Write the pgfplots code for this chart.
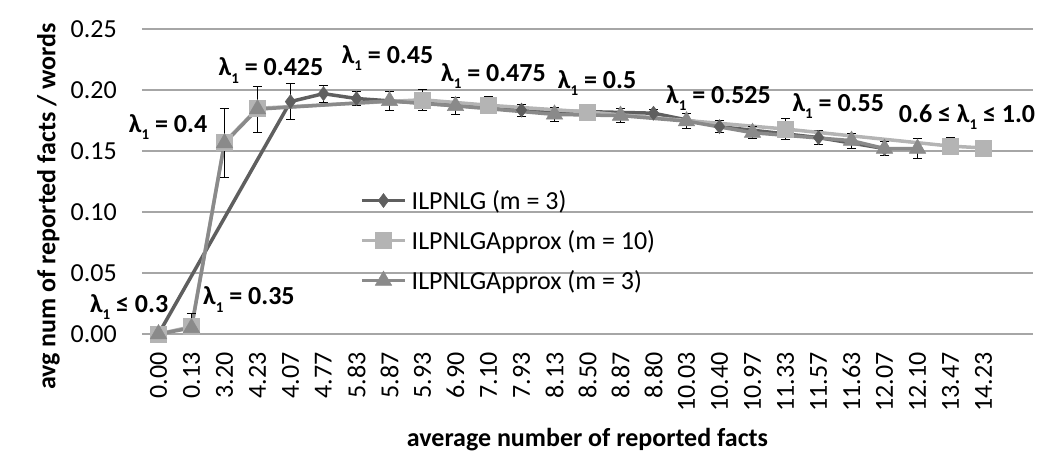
\documentclass[border=0pt]{standalone}
\usepackage{fontspec}
\setmainfont{Carlito}
\usepackage{pgfplots}
\pgfplotsset{compat=1.18}
\definecolor{cD}{HTML}{5F5F5F}
\definecolor{cS}{HTML}{B4B4B4}
\definecolor{cT}{HTML}{8A8A8A}
\definecolor{cG}{HTML}{A6A6A6}
\newcommand\cf{\fontsize{26bp}{31bp}\selectfont}
\newcommand\sub{\raisebox{-0.28em}{\fontsize{15bp}{15bp}\selectfont 1}}
\newcommand\lab[1]{\textbf{λ\sub\ #1}}
\begin{document}
\begin{tikzpicture}[font=\cf]
\begin{axis}[
 scale only axis, width=891bp, height=305bp,
 xmin=-0.5, xmax=26.5, ymin=0, ymax=0.25,
 clip=false,
 axis line style={draw=none},
 major tick length=0pt,
 ymajorgrids, grid style={cG, line width=1.2bp},
 ytick={0,0.05,0.1,0.15,0.2,0.25},
 yticklabels={0.00,0.05,0.10,0.15,0.20,0.25},
 yticklabel style={anchor=east, inner sep=0pt, xshift=-25bp},
 xtick={0,...,25},
 xticklabels={0.00,0.13,3.20,4.23,4.07,4.77,5.83,5.87,5.93,6.90,7.10,7.93,8.13,8.50,8.87,8.80,10.03,10.40,10.97,11.33,11.57,11.63,12.07,12.10,13.47,14.23},
 xticklabel style={yshift=-18bp, rotate=90, anchor=east, inner sep=0pt},
 /pgf/number format/assume math mode=true,
 xlabel={average number of reported facts},
 xlabel style={font=\cf\bfseries, at={(axis description cs:0.5,0)}, anchor=center, yshift=-106bp},
 ylabel={avg num of reported facts / words},
 ylabel style={font=\cf\bfseries, at={(axis description cs:-0.1049,0.418)}, anchor=center},
 legend style={at={(rel axis cs:0.2447,0.4718)}, anchor=north west, draw=none, fill=none,
   inner sep=0pt, row sep=19.5bp, column sep=5bp, nodes={inner sep=0pt}},
 legend cell align=left,
 legend image code/.code={\draw[mark repeat=2,mark phase=2,#1] plot coordinates {(0bp,0bp) (21.5bp,0bp) (43bp,0bp)};},
 every axis plot/.append style={line width=3.5bp},
 error bars/error bar style={black, line width=0.9bp},
 error bars/error mark options={rotate=90, black, mark size=4.5bp, line width=0.9bp},
]
\addplot[cD, mark=diamond*, mark size=7bp, mark options={fill=cD, draw=cD, line width=0.5bp},
  error bars/.cd, y dir=both, y explicit]
 coordinates {
 (0,0.000) +- (0,0)
 (4,0.1905) +- (0,0.0145)
 (5,0.197) +- (0,0.007)
 (6,0.193) +- (0,0.006)
 (11,0.1835) +- (0,0.005)
 (15,0.181) +- (0,0.003)
 (17,0.170) +- (0,0.005)
 (20,0.161) +- (0,0.006)
 (22,0.152) +- (0,0.006)
 };
\addlegendentry{ILPNLG (m = 3)}
\addplot[cS, mark=square*, mark size=8bp, mark options={fill=cS, draw=cS, line width=0.5bp},
  error bars/.cd, y dir=both, y explicit]
 coordinates {
 (0,0.000) +- (0,0)
 (1,0.006) +- (0,0)
 (2,0.157) +- (0,0)
 (3,0.185) +- (0,0)
 (8,0.192) +- (0,0.0085)
 (10,0.1875) +- (0,0.007)
 (13,0.182) +- (0,0.004)
 (19,0.168) +- (0,0.0086)
 (24,0.154) +- (0,0.007)
 (25,0.1525) +- (0,0.001)
 };
\addlegendentry{ILPNLGApprox (m = 10)}
\addplot[cT, mark=triangle*, mark size=9.5bp, mark options={fill=cT, draw=cT, line width=0.5bp},
  error bars/.cd, y dir=both, y explicit]
 coordinates {
 (0,0.000) +- (0,0)
 (1,0.005) += (0,0.012) -= (0,0.005)
 (2,0.1565) +- (0,0.0285)
 (3,0.1843) +- (0,0.019)
 (7,0.191) +- (0,0.008)
 (9,0.187) +- (0,0.007)
 (12,0.180) +- (0,0.006)
 (14,0.179) +- (0,0.006)
 (16,0.1745) +- (0,0.006)
 (18,0.165) +- (0,0.005)
 (21,0.1585) +- (0,0.006)
 (22,0.152) +- (0,0.006)
 (23,0.152) +- (0,0.008)
 };
\addlegendentry{ILPNLGApprox (m = 3)}
\node[anchor=base] at (axis cs:-0.89,0.0178) {\lab{≤ 0.3}};
\node[anchor=base] at (axis cs:2.74,0.0238) {\lab{= 0.35}};
\node[anchor=base] at (axis cs:0.29,0.165) {\lab{= 0.4}};
\node[anchor=base] at (axis cs:3.41,0.2115) {\lab{= 0.425}};
\node[anchor=base] at (axis cs:6.94,0.222) {\lab{= 0.45}};
\node[anchor=base] at (axis cs:10.15,0.2068) {\lab{= 0.475}};
\node[anchor=base] at (axis cs:13.29,0.2014) {\lab{= 0.5}};
\node[anchor=base] at (axis cs:16.97,0.1891) {\lab{= 0.525}};
\node[anchor=base] at (axis cs:20.6,0.1822) {\lab{= 0.55}};
\node[anchor=base] at (axis cs:24.5,0.1732) {\textbf{0.6 ≤ λ\sub\ ≤ 1.0}};
\end{axis}
\pgfresetboundingbox
\path[use as bounding box] (-142bp,-138bp) rectangle (917bp,334bp);
\end{tikzpicture}
\end{document}
